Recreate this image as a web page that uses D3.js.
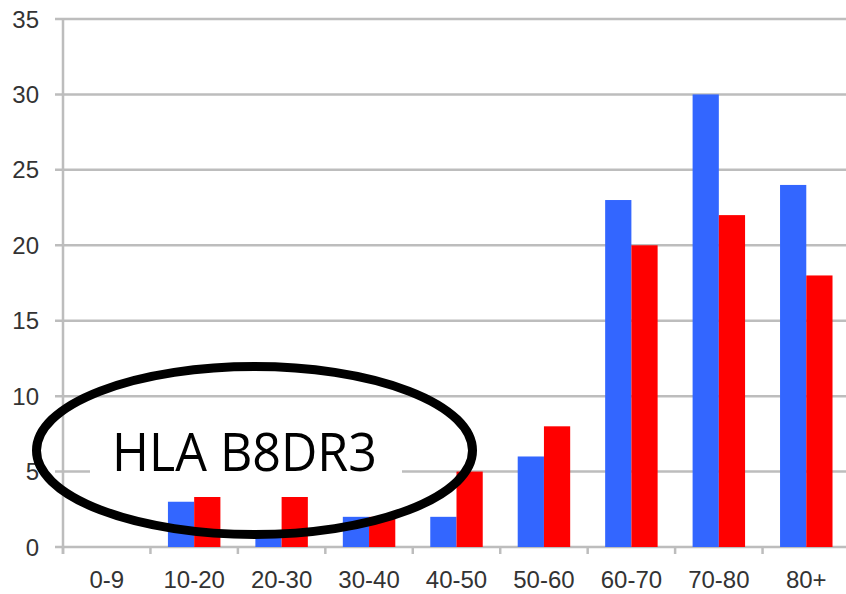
<!DOCTYPE html>
<html>
<head>
<meta charset="UTF-8">
<title>HLA B8DR3</title>
<style>
  body { margin: 0; background: #fff; }
  svg { display: block; }
</style>
<script src="https://d3js.org/d3.v7.min.js"></script>
</head>
<body>
<svg id="chart" width="846" height="594"></svg>
<script>
  // data
  const categories = ['0-9', '10-20', '20-30', '30-40', '40-50', '50-60', '60-70', '70-80', '80+'];
  const blueValues = [0, 3, 1, 2, 2, 6, 23, 30, 24];
  const redValues  = [0, 4, 4, 2, 5, 8, 20, 22, 18];
  const yTicks = [0, 5, 10, 15, 20, 25, 30, 35];
  const series = ['blue', 'red'];
  const colors = { blue: '#3366ff', red: '#ff0000' };
  const label = 'HLA B8DR3';

  const svg = d3.select('#chart');
  const plotLeft = 63, plotRight = 850, plotTop = 19, plotBottom = 547;

  const x = d3.scaleBand().domain(categories).range([plotLeft, plotRight]);
  const x1 = d3.scaleBand().domain(series)
    .range([x.bandwidth() * 0.2, x.bandwidth() * 0.8]);
  const y = d3.scaleLinear().domain([0, 35]).range([plotBottom, plotTop]);

  // gridlines
  svg.append('g')
    .selectAll('line')
    .data(yTicks)
    .join('line')
    .attr('x1', plotLeft - 8)
    .attr('x2', 846)
    .attr('y1', d => y(d))
    .attr('y2', d => y(d))
    .attr('stroke', '#bdbdbd')
    .attr('stroke-width', 2.5);

  // y axis line
  svg.append('line')
    .attr('x1', plotLeft).attr('x2', plotLeft)
    .attr('y1', plotTop).attr('y2', plotBottom + 7)
    .attr('stroke', '#bdbdbd')
    .attr('stroke-width', 2.5);

  // y labels
  svg.append('g')
    .selectAll('text')
    .data(yTicks)
    .join('text')
    .attr('x', 39)
    .attr('y', d => y(d))
    .attr('dy', '0.36em')
    .attr('text-anchor', 'end')
    .attr('fill', '#333')
    .style('font-family', '"Liberation Sans", Arial, sans-serif')
    .style('font-size', '24px')
    .text(d => d);

  // x tick marks at band edges
  svg.append('g')
    .selectAll('line')
    .data(categories)
    .join('line')
    .attr('x1', d => x(d))
    .attr('x2', d => x(d))
    .attr('y1', plotBottom)
    .attr('y2', plotBottom + 7)
    .attr('stroke', '#bdbdbd')
    .attr('stroke-width', 2.5);

  // x labels
  svg.append('g')
    .selectAll('text')
    .data(categories)
    .join('text')
    .attr('x', d => x(d) + x.bandwidth() / 2)
    .attr('y', 588)
    .attr('text-anchor', 'middle')
    .attr('fill', '#333')
    .style('font-family', '"Liberation Sans", Arial, sans-serif')
    .style('font-size', '24px')
    .text(d => d);

  // bars
  const rows = categories.map((c, i) => ({ cat: c, blue: blueValues[i], red: redValues[i] }));
  svg.append('g')
    .selectAll('g')
    .data(rows)
    .join('g')
    .attr('transform', d => `translate(${x(d.cat)},0)`)
    .selectAll('rect')
    .data(d => series.map(s => ({ key: s, value: d[s] })))
    .join('rect')
    .attr('x', d => x1(d.key))
    .attr('width', x1.bandwidth())
    .attr('y', d => y(d.value))
    .attr('height', d => plotBottom - y(d.value))
    .attr('fill', d => colors[d.key]);

  // annotation: white text box + ellipse
  svg.append('rect')
    .attr('x', 90).attr('y', 410)
    .attr('width', 312).attr('height', 87)
    .attr('fill', '#fff');

  svg.append('ellipse')
    .attr('cx', 254.5).attr('cy', 450.5)
    .attr('rx', 218).attr('ry', 84)
    .attr('fill', 'none')
    .attr('stroke', '#000')
    .attr('stroke-width', 9);

  svg.append('text')
    .attr('x', 112)
    .attr('y', 471)
    .attr('textLength', 265)
    .attr('lengthAdjust', 'spacingAndGlyphs')
    .attr('fill', '#000')
    .style('font-family', '"Open Sans", "Noto Sans", sans-serif')
    .style('font-size', '53px')
    .text(label);
</script>
</body>
</html>
